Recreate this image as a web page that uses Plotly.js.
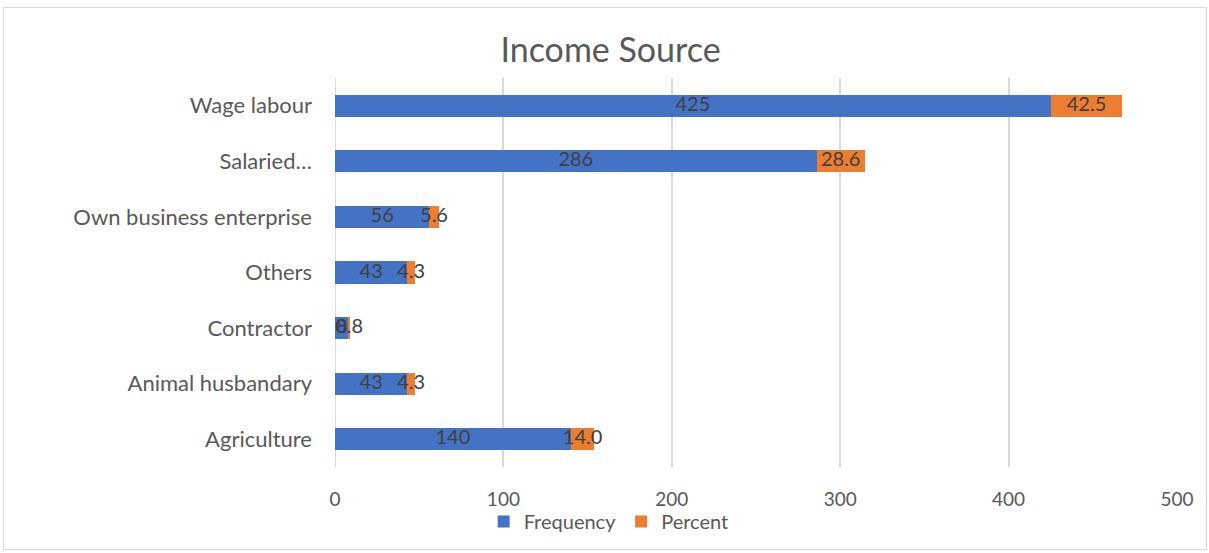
<!DOCTYPE html>
<html>
<head>
<meta charset="utf-8">
<script src="https://cdn.plot.ly/plotly-3.0.1.min.js"></script>
<style>
  html, body { margin: 0; padding: 0; background: #fff; }
  #wrap { position: relative; width: 1209px; height: 553px; }
  #chart { position: absolute; left: 0; top: 0; width: 1209px; height: 553px; }
  #frame { position: absolute; left: 3px; top: 7px; width: 1202px; height: 541px; border: 1px solid #d9d9d9; pointer-events: none; }
</style>
</head>
<body>
<div id="wrap">
  <div id="chart"></div>
  <div id="frame"></div>
</div>
<script>
const categories = ["Wage labour", "Salaried…", "Own business enterprise", "Others", "Contractor", "Animal husbandary", "Agriculture"];
const frequency = [425, 286, 56, 43, 8, 43, 140];
const percent = [42.5, 28.6, 5.6, 4.3, 0.8, 4.3, 14.0];

const blue = "#4472c4";
const orange = "#ed7d31";
const fam = "Lato, 'Open Sans', sans-serif";
const labelFont = { family: fam, size: 20, color: "#404040" };

const traces = [
  { type: "bar", orientation: "h", name: "Frequency", y: categories, x: frequency,
    marker: { color: blue }, hoverinfo: "skip" },
  { type: "bar", orientation: "h", name: "Percent", y: categories, x: percent,
    marker: { color: orange }, hoverinfo: "skip" },
  { type: "scatter", mode: "text", showlegend: false, hoverinfo: "skip",
    y: categories, x: frequency.map(v => v / 2), text: frequency.map(String),
    textposition: "middle center", textfont: labelFont, cliponaxis: false },
  { type: "scatter", mode: "text", showlegend: false, hoverinfo: "skip",
    y: categories, x: frequency.map((v, i) => v + percent[i] / 2), text: percent.map(v => v.toFixed(1)),
    textposition: "middle center", textfont: labelFont, cliponaxis: false }
];

const layout = {
  width: 1209, height: 553,
  margin: { l: 335, r: 32, t: 78, b: 84 },
  paper_bgcolor: "#ffffff", plot_bgcolor: "#ffffff",
  barmode: "stack", bargap: 0.6,
  font: { family: fam, color: "#595959" },
  title: { text: "Income Source", font: { size: 34, color: "#595959", family: fam },
           xref: "container", x: 0.505, xanchor: "center", yref: "container", y: 0.91, yanchor: "middle" },
  xaxis: { range: [0, 500], tickvals: [0, 100, 200, 300, 400, 500], showgrid: true, gridcolor: "#d9d9d9", gridwidth: 2,
           zeroline: false, showline: false, ticks: "", tickfont: { size: 19, color: "#595959" }, ticklabelstandoff: 19, fixedrange: true },
  yaxis: { autorange: "reversed", showgrid: false, zeroline: false, showline: false, ticks: "",
           tickfont: { size: 22, color: "#595959" }, ticklabelstandoff: 22, fixedrange: true },
  showlegend: true,
  legend: { orientation: "h", x: 0.325, xanchor: "center", y: -0.14, yanchor: "middle", bgcolor: "rgba(0,0,0,0)",
            font: { size: 20, color: "#595959" }, traceorder: "normal", itemwidth: 30 },
  shapes: [
    { type: "line", xref: "x", yref: "paper", x0: 0, x1: 0, y0: 0, y1: 1, line: { color: "#d9d9d9", width: 2 }, layer: "below" }
  ]
};

Plotly.newPlot("chart", traces, layout, { displayModeBar: false, staticPlot: true });
</script>
</body>
</html>
